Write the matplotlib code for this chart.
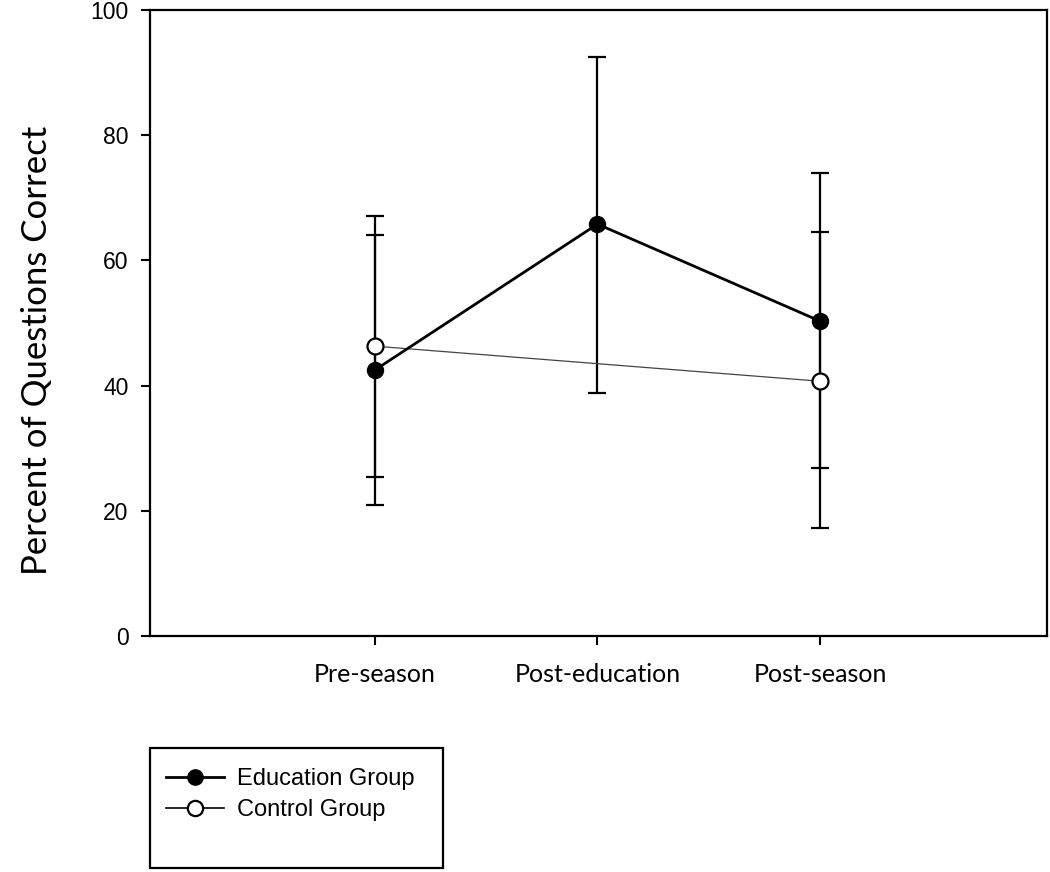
import matplotlib
matplotlib.use("Agg")
import matplotlib.pyplot as plt
from matplotlib.patches import Rectangle
from matplotlib.lines import Line2D

categories = ["Pre-season", "Post-education", "Post-season"]
edu_x = [1, 2, 3]
edu_mean = [42.5, 65.8, 50.3]
edu_lower = [20.9, 38.8, 26.8]
edu_upper = [64.1, 92.5, 74.0]

ctrl_x = [1, 3]
ctrl_mean = [46.3, 40.7]
ctrl_lower = [25.4, 17.3]
ctrl_upper = [67.1, 64.5]

yticks = [0, 20, 40, 60, 80, 100]

fig = plt.figure(figsize=(10.5, 8.72), dpi=100)
ax = fig.add_axes([150/1050, 1 - 636/872, (1047-150)/1050, (636-10)/872])

def err(mean, lo, hi):
    return [[m - l for m, l in zip(mean, lo)], [h - m for m, h in zip(mean, hi)]]

# error bars
ax.errorbar(edu_x, edu_mean, yerr=err(edu_mean, edu_lower, edu_upper), fmt='none',
            ecolor='black', elinewidth=1.6, capsize=6.7, capthick=1.6, zorder=2)
ax.errorbar(ctrl_x, ctrl_mean, yerr=err(ctrl_mean, ctrl_lower, ctrl_upper), fmt='none',
            ecolor='black', elinewidth=1.6, capsize=6.7, capthick=1.6, zorder=2)

# lines
ax.plot(ctrl_x, ctrl_mean, color='#444444', lw=0.9, zorder=3)
ax.plot(edu_x, edu_mean, color='black', lw=2.0, zorder=3)
ax.plot(ctrl_x, ctrl_mean, 'o', color='black', mfc='white', mec='black', mew=1.6,
        ms=11.5, zorder=4)
ax.plot(edu_x, edu_mean, 'o', color='black', mfc='black', mec='black', ms=11.5, zorder=4)

ax.set_xlim(-0.011, 4.02)
ax.set_ylim(0, 100)
ax.set_yticks(yticks)
ax.set_yticklabels([str(v) for v in yticks], fontsize=16.5, family='Liberation Sans')
ax.set_xticks(edu_x)
ax.set_xticklabels(categories, fontsize=18, family='Lato')
ax.tick_params(axis='y', direction='out', length=6.5, width=1.5, pad=9, right=False)
ax.tick_params(axis='x', direction='out', length=6.5, width=1.5, pad=13, top=False)
for s in ax.spines.values():
    s.set_linewidth(1.6)

fig.text(37/1050, 1 - 350/872, "Percent of Questions Correct", rotation=90,
         ha='center', va='center', fontsize=25, family='Lato')

# legend box
fig.patches.append(Rectangle((150/1050, 1 - 868/872), (443-150)/1050, (868-748)/872,
                             transform=fig.transFigure, fill=False, edgecolor='black',
                             lw=1.6))
h1 = Line2D([], [], color='black', lw=2.0, marker='o', ms=11, mfc='black', mec='black')
h2 = Line2D([], [], color='black', lw=1.2, marker='o', ms=11, mfc='white', mec='black', mew=1.6)
fig.legend([h1, h2], ["Education Group", "Control Group"], loc='upper left',
           bbox_to_anchor=(166/1050, 1 - 768/872), frameon=False,
           prop={'family': 'Liberation Sans', 'size': 17}, handlelength=2.45,
           handletextpad=0.55, labelspacing=0.4, borderaxespad=0, borderpad=0)

fig.savefig("out.png", dpi=100)
